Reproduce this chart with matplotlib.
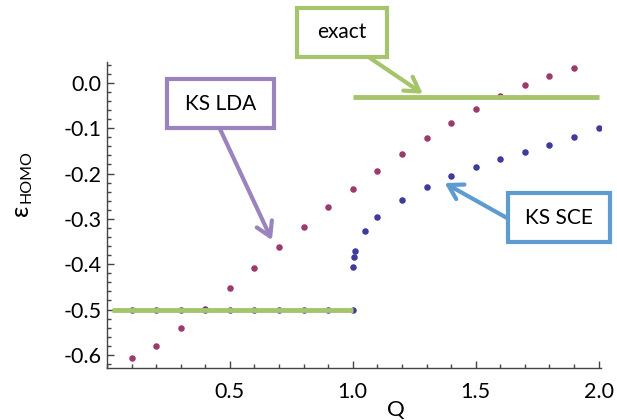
import matplotlib
matplotlib.use("Agg")
import matplotlib.pyplot as plt
from matplotlib.patches import Rectangle
from matplotlib.ticker import MultipleLocator, FormatStrFormatter

plt.rcParams['font.family'] = ['Lato', 'DejaVu Sans']
plt.rcParams['axes.unicode_minus'] = False

# KS LDA values
q_lda = [0.1, 0.2, 0.3, 0.4, 0.5, 0.6, 0.7, 0.8, 0.9, 1.0,
         1.1, 1.2, 1.3, 1.4, 1.5, 1.6, 1.7, 1.8, 1.9]
e_lda = [-0.607, -0.581, -0.541, -0.499, -0.452, -0.408, -0.362, -0.318, -0.274, -0.234,
         -0.194, -0.157, -0.122, -0.089, -0.058, -0.030, -0.005, 0.015, 0.032]

# KS SCE values
q_sce = [0.1, 0.2, 0.3, 0.4, 0.5, 0.6, 0.7, 0.8, 0.9, 1.0,
         1.0, 1.005, 1.01, 1.05, 1.1, 1.2, 1.3, 1.4, 1.5, 1.6, 1.7, 1.8, 1.9, 2.0]
e_sce = [-0.5, -0.5, -0.5, -0.5, -0.5, -0.5, -0.5, -0.5, -0.5, -0.5,
         -0.406, -0.384, -0.371, -0.327, -0.296, -0.258, -0.229, -0.206, -0.186,
         -0.168, -0.152, -0.136, -0.120, -0.099]

# exact line segments
exact_low_q = [0.02, 1.0]
exact_low_e = [-0.5, -0.5]
exact_high_q = [1.0, 2.0]
exact_high_e = [-0.031, -0.031]

GREEN = '#a6c46c'
PURPLE = '#9b84bd'
BLUE = '#5e9bd0'
C_LDA = '#9c3a6e'
C_SCE = '#3f3a9c'

W, H = 617, 420
fig = plt.figure(figsize=(W / 100, H / 100), dpi=100)
ax = fig.add_axes([107 / W, 1 - 368 / H, 494 / W, 306 / H])

ax.scatter(q_lda, e_lda, s=22, color=C_LDA, zorder=2, linewidths=0)
ax.scatter(q_sce, e_sce, s=22, color=C_SCE, zorder=2, linewidths=0)
ax.plot(exact_low_q, exact_low_e, color=GREEN, lw=3.5, zorder=3, solid_capstyle='butt')
ax.plot(exact_high_q, exact_high_e, color=GREEN, lw=3.5, zorder=3, solid_capstyle='butt')

ax.set_xlim(0, 2.01)
ax.set_ylim(-0.629, 0.046)

for s in ['top', 'right']:
    ax.spines[s].set_visible(False)
for s in ['left', 'bottom']:
    ax.spines[s].set_color('#444444')
    ax.spines[s].set_linewidth(1.0)

ax.xaxis.set_major_locator(MultipleLocator(0.5))
ax.xaxis.set_minor_locator(MultipleLocator(0.1))
ax.yaxis.set_major_locator(MultipleLocator(0.1))
ax.yaxis.set_minor_locator(MultipleLocator(0.02))
ax.xaxis.set_major_formatter(FormatStrFormatter('%.1f'))
ax.yaxis.set_major_formatter(FormatStrFormatter('%.1f'))
ax.tick_params(which='major', direction='in', length=5, width=1, color='#444444',
               labelsize=15.5, labelcolor='black')
ax.tick_params(which='minor', direction='in', length=3, width=1, color='#444444')
ax.tick_params(axis='x', which='major', pad=10)
ax.tick_params(axis='y', which='major', pad=4)

ax.set_xticks([0.5, 1.0, 1.5, 2.0])
ax.set_yticks([0.0, -0.1, -0.2, -0.3, -0.4, -0.5, -0.6])

# axis labels
fig.text(396 / W, 1 - 410 / H, 'Q', fontsize=16, ha='center', va='center')
fig.text(21 / W, 1 - 210 / H, 'ε', fontsize=18, ha='center', va='center', rotation=90)
fig.text(27 / W, 1 - 177 / H, 'HOMO', fontsize=11.5, ha='center', va='center', rotation=90)

# callout boxes: box edges in pixels (left, right, top, bottom), arrow start in pixels
def callout(label, box, start, tip, color):
    x0, x1, y0, y1 = box
    fig.patches.append(Rectangle((x0 / W, 1 - y1 / H), (x1 - x0) / W, (y1 - y0) / H,
                                 transform=fig.transFigure, fc='white', ec=color,
                                 lw=3, zorder=5))
    fig.text((x0 + x1) / 2 / W, 1 - (y0 + y1) / 2 / H, label, fontsize=15,
             ha='center', va='center', zorder=6)
    ax.annotate('', xy=tip, xycoords='data',
                xytext=(start[0] / W, 1 - start[1] / H), textcoords='figure fraction',
                annotation_clip=False, zorder=4,
                arrowprops=dict(arrowstyle='->,head_length=0.5,head_width=0.3',
                                mutation_scale=20, color=color, lw=3,
                                shrinkA=0, shrinkB=0))

callout('exact', (297, 387, 8, 57), (370, 58), (1.285, -0.024), GREEN)
callout('KS LDA', (167, 274, 79, 128), (220, 129), (0.671, -0.347), PURPLE)
callout('KS SCE', (508, 610, 193, 242), (507, 218), (1.374, -0.221), BLUE)

fig.savefig('out.png', dpi=100)
